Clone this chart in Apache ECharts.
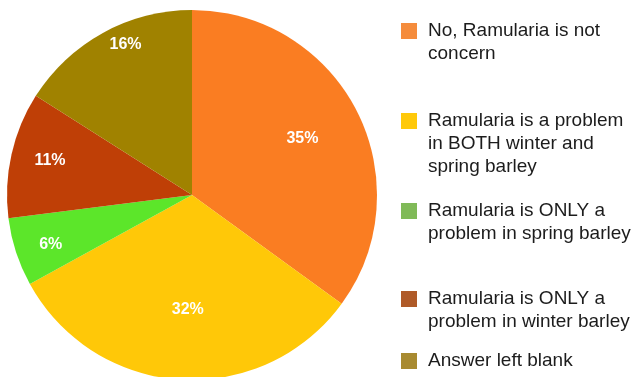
<!DOCTYPE html>
<html>
<head>
<meta charset="utf-8">
<script src="https://cdn.jsdelivr.net/npm/echarts@6/dist/echarts.min.js"></script>
<style>
  html, body { margin: 0; padding: 0; background: #fff; }
  #chart { width: 640px; height: 377px; }
</style>
</head>
<body>
<div id="chart"></div>
<script>
// Survey answers: is Ramularia a concern?
const categories = [
  'No, Ramularia is not\nconcern',
  'Ramularia is a problem\nin BOTH winter and\nspring barley',
  'Ramularia is ONLY a\nproblem in spring barley',
  'Ramularia is ONLY a\nproblem in winter barley',
  'Answer left blank'
];
const shares = [35, 32, 6, 11, 16];

// Slice fills and the slightly muted legend swatches
const sliceColors = ['#FA7D22', '#FFC808', '#5CE62A', '#BF3F06', '#A08200'];
const swatchColors = ['#F58C3C', '#FFC90A', '#80BA58', '#AF5A28', '#A88A30'];

// Where each percentage label sits: fraction of the radius, and a small
// angular nudge (degrees) away from the slice's middle
const labelRadius = [0.67, 0.62, 0.81, 0.79, 0.89];
const labelNudge = [0, -1.5, -1.5, 1, 5];

const cx = 192, cy = 195, R = 185;
const total = shares.reduce((a, b) => a + b, 0);

function midAngle(i) {
  let before = 0;
  for (let k = 0; k < i; k++) before += shares[k];
  return (before + shares[i] / 2) / total * 2 * Math.PI;
}

// Top edge of each legend swatch
const swatchTops = [22, 112, 202, 290, 352];
const lineH = 23, swatch = 16;

const chart = echarts.init(document.getElementById('chart'), null, { renderer: 'canvas' });

const legendFont = {
  fontFamily: 'Liberation Sans, Arial, sans-serif',
  fontSize: 19,
  color: '#1c1c1c',
  lineHeight: lineH
};

// One legend block per answer so the uneven vertical spacing can be kept.
// The swatch is centred on its text block, so blank lines are put in front
// of the text to line the swatch up with the first text line.
const legends = categories.map((name, i) => {
  const lines = name.split('\n');
  const n = lines.length;
  const boxH = (2 * n - 1) * lineH;
  return {
    left: 401,
    top: swatchTops[i] + swatch / 2 - boxH / 2 + 1,
    padding: 0,
    orient: 'vertical',
    selectedMode: false,
    itemWidth: swatch,
    itemHeight: swatch,
    itemGap: 11,
    icon: 'rect',
    data: [{ name: name, itemStyle: { color: swatchColors[i] } }],
    formatter: function () {
      const pad = [];
      for (let k = 1; k < n; k++) pad.push('{t| }');
      return pad.concat(lines.map(l => '{t|' + l + '}')).join('\n');
    },
    textStyle: Object.assign({}, legendFont, {
      rich: { t: Object.assign({}, legendFont, { padding: [0, 0, 0, 6] }) }
    })
  };
});

chart.setOption({
  animation: false,
  backgroundColor: '#ffffff',
  legend: legends,
  series: [{
    type: 'pie',
    center: [cx, cy],
    radius: R,
    startAngle: 90,
    clockwise: true,
    silent: true,
    data: categories.map((name, i) => ({
      name: name,
      value: shares[i],
      itemStyle: { color: sliceColors[i] }
    })),
    itemStyle: { borderWidth: 0 },
    label: {
      show: true,
      position: 'inside',
      formatter: '{c}%',
      color: '#ffffff',
      fontFamily: 'Liberation Sans, Arial, sans-serif',
      fontWeight: 'bold',
      fontSize: 16
    },
    labelLine: { show: false },
    labelLayout: function (params) {
      const i = params.dataIndex;
      const a = midAngle(i) + labelNudge[i] * Math.PI / 180;
      const d = labelRadius[i] * R;
      return {
        x: cx + d * Math.sin(a),
        y: cy - d * Math.cos(a),
        align: 'center',
        verticalAlign: 'middle'
      };
    }
  }]
});
</script>
</body>
</html>
